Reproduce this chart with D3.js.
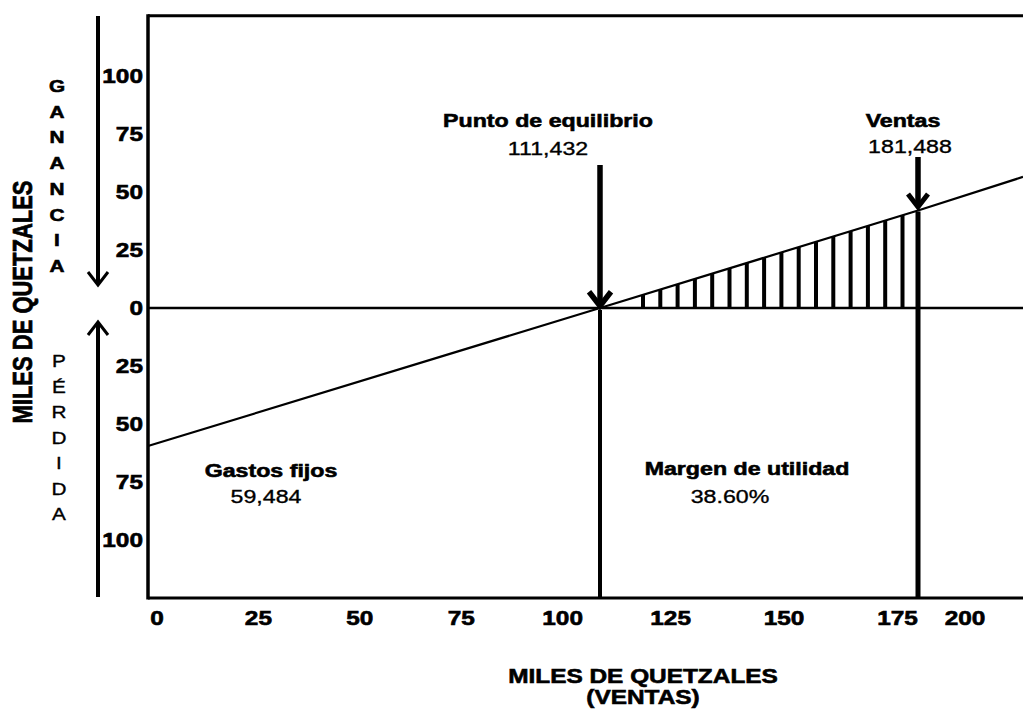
<!DOCTYPE html>
<html>
<head>
<meta charset="utf-8">
<script src="https://cdn.jsdelivr.net/npm/d3@7"></script>
<style>
  body { margin: 0; background: #fff; }
  svg { display: block; }
  text { font-family: "Liberation Sans", Arial, sans-serif; fill: #000; }
</style>
</head>
<body>
<div id="main"></div>
<script>
// datos del grafico (miles de quetzales)
var gastosFijos = 59.484;
var puntoEquilibrio = 111.432;
var ventas = 181.488;
var margen = "38.60%";

// linea de resultado: ventas -> ganancia/perdida
var lineaVentas = [0, 111.432, 181.488, 210];
var lineaResultado = [-59.484, 0, 42, 56.5];

var xTicks = [0, 25, 50, 75, 100, 125, 150, 175, 200];
var yTicks = [100, 75, 50, 25, 0, -25, -50, -75, -100];

var letrasGanancia = "GANANCIA".split("");
var letrasPerdida = "PÉRDIDA".split("");

var w = 1023, h = 714;
var sx = 1.22; // el original esta estirado horizontalmente

var svg = d3.select("#main")
    .append("svg")
    .attr("width", w)
    .attr("height", h);

// escala x por tramos, como en el dibujo original
var x = d3.scaleLinear()
    .domain([0, puntoEquilibrio, ventas, 200, 210])
    .range([148, 600, 918, 956, 1023]);

var y = d3.scaleLinear()
    .domain([-125, 125])
    .range([598, 18]);

function texto(px, py, txt, size, bold, anchor) {
    return svg.append("text")
        .attr("transform", "translate(" + px + "," + py + ") scale(" + sx + ",1)")
        .attr("text-anchor", anchor || "middle")
        .style("font-size", size + "px")
        .style("font-weight", bold ? "bold" : "normal")
        .style("stroke", "#000")
        .style("stroke-width", bold ? 0.6 : 0.35)
        .text(txt);
}

function linea(x1, y1, x2, y2, sw) {
    return svg.append("line")
        .attr("x1", x1).attr("y1", y1)
        .attr("x2", x2).attr("y2", y2)
        .attr("stroke", "#000")
        .attr("stroke-width", sw);
}

function punta(px, py, dir, size, sw) {
    // chevron abierto; dir = 1 hacia abajo, -1 hacia arriba
    svg.append("path")
        .attr("d", "M" + (px - size) + "," + (py - dir * size * 1.3) +
              "L" + px + "," + py +
              "L" + (px + size) + "," + (py - dir * size * 1.3))
        .attr("fill", "none")
        .attr("stroke", "#000")
        .attr("stroke-width", sw)
        .attr("stroke-linejoin", "miter");
}

// marco
var xLeft = x(0), xRight = w;
linea(xLeft, y(126), xRight, y(126), 3);
linea(xLeft, y(126) - 1.5, xLeft, y(-125) + 1.5, 3.5);
linea(xLeft, y(-125), xRight, y(-125), 3);

// eje cero
linea(xLeft, y(0), xRight, y(0), 2.5);

// rayado del margen de utilidad
var clip = svg.append("clipPath").attr("id", "zona");
clip.append("path")
    .attr("d", "M" + x(puntoEquilibrio) + "," + y(0) +
          "L" + x(ventas) + "," + y(lineaResultado[2]) +
          "L" + x(ventas) + "," + y(0) + "Z");

svg.append("g")
    .attr("clip-path", "url(#zona)")
    .selectAll("line")
    .data(d3.range(x(puntoEquilibrio) + 43, x(ventas) - 8, 17.3))
    .enter()
    .append("line")
    .attr("x1", function(d) { return d; })
    .attr("x2", function(d) { return d; })
    .attr("y1", y(0))
    .attr("y2", y(70))
    .attr("stroke", "#000")
    .attr("stroke-width", 4);

// linea de resultado
svg.append("path")
    .datum(d3.zip(lineaVentas, lineaResultado))
    .attr("d", d3.line()
        .x(function(d) { return x(d[0]); })
        .y(function(d) { return y(d[1]); }))
    .attr("fill", "none")
    .attr("stroke", "#000")
    .attr("stroke-width", 2.2);

// punto de equilibrio
var xPe = x(puntoEquilibrio);
linea(xPe, 165, xPe, y(0) - 4, 5.5);
punta(xPe, y(0) - 2, 1, 11, 5.5);
linea(xPe, y(0) + 2, xPe, y(-125), 4);

// ventas
var xV = x(ventas);
linea(xV, 157, xV, 205, 5.5);
punta(xV, 207, 1, 10, 5);
linea(xV, y(lineaResultado[2]) + 1, xV, y(-125), 5);

// flechas de ganancia / perdida
linea(98, 16, 98, 284, 4);
punta(98, 285, 1, 10, 3);
linea(98, 323, 98, 597, 4);
punta(98, 322, -1, 10, 3);

// etiquetas del eje y
yTicks.forEach(function(v) {
    texto(143, y(v) + 7, Math.abs(v), 20, true, "end");
});

// etiquetas del eje x
xTicks.forEach(function(v) {
    texto(x(v) + 9, 625, v, 20, true);
});

// letras verticales
letrasGanancia.forEach(function(l, i) {
    texto(57, 92 + i * 25.7, l, 17, true);
});
letrasPerdida.forEach(function(l, i) {
    texto(59, 367 + i * 25.5, l, 17, false);
});

// titulos de ejes
svg.append("text")
    .attr("transform", "translate(32,302) scale(" + sx + ",1) rotate(-90)")
    .attr("text-anchor", "middle")
    .style("font-size", "22px")
    .style("font-weight", "bold")
    .style("stroke", "#000")
    .style("stroke-width", 0.6)
    .text("MILES DE QUETZALES");

texto(643, 683, "MILES DE QUETZALES", 20, true);
texto(643, 704, "(VENTAS)", 20, true);

// anotaciones
texto(548, 127, "Punto de equilibrio", 19, true);
texto(548, 155, d3.format(",.3f")(puntoEquilibrio).replace(".", ","), 19, false);

texto(903, 127, "Ventas", 19, true);
texto(910, 153, d3.format(",.3f")(ventas).replace(".", ","), 19, false);

texto(271, 477, "Gastos fijos", 19, true);
texto(266, 503, d3.format(",.3f")(gastosFijos).replace(".", ","), 19, false);

texto(747, 475, "Margen de utilidad", 19, true);
texto(730, 503, margen, 19, false);
</script>
</body>
</html>
